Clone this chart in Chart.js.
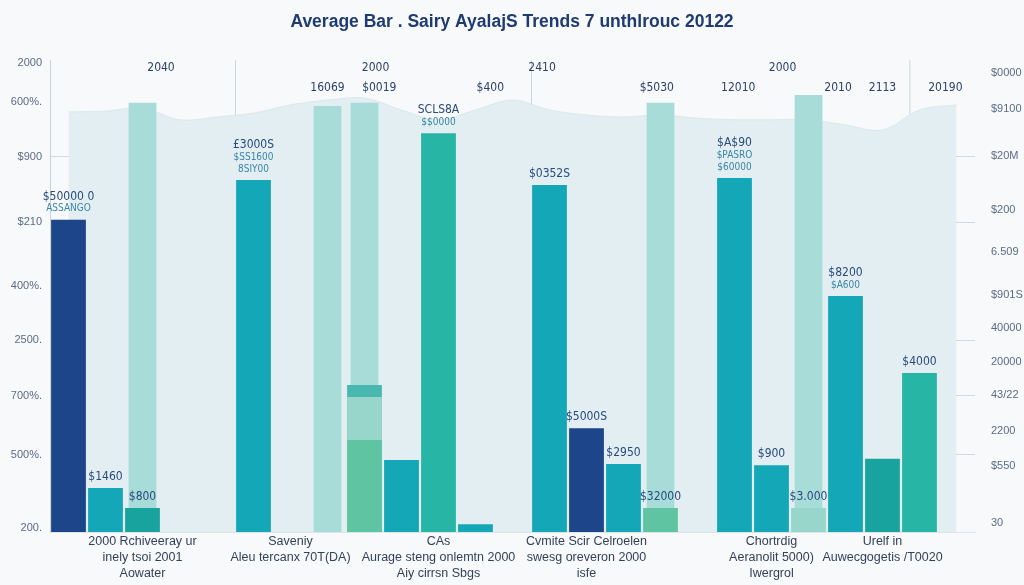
<!DOCTYPE html>
<html>
<head>
<meta charset="utf-8">
<script src="https://cdn.jsdelivr.net/npm/chart.js@4.4.1/dist/chart.umd.min.js"></script>
<style>
  html, body { margin: 0; padding: 0; background: #f7f9fa; }
</style>
</head>
<body>
<canvas id="salaryChart" width="1024" height="585"></canvas>
<script>
// 25 narrow slots, group captions sit under a few of them
const categoryLabels = [
    '', '', ['2000 Rchiveeray ur', 'inely tsoi 2001', 'Aowater'], '', '',
    '', ['Saveniy', 'Aleu tercanx 70T(DA)'], '', '', '',
    ['CAs', 'Aurage steng onlemtn 2000', 'Aiy cirrsn Sbgs'], '', '', '', ['Cvmite Scir Celroelen', 'swesg oreveron 2000', 'isfe'],
    '', '', '', '', ['Chortrdig', 'Aeranolit 5000)', 'Iwergrol'],
    '', '', ['Urelf in', 'Auwecgogetis /T0020'], '', ''
];

//                0     1     2     3     4     5     6     7     8     9     10    11    12    13    14    15    16    17    18    19    20    21    22    23    24
const darkBlue = [3970, null, null, null, null, null, null, null, null, null, null, null, null, null, 1320, null, null, null, null, null, null, null, null, null, null];
const teal =     [null, 560,  null, null, null, 4475, null, null, null, 915,  null, 100,  null, 4410, null, 865,  null, null, 4500, 850,  null, 3000, null, null, null];
const teal2 =    [null, null, 305,  null, null, null, null, null, null, null, null, null, null, null, null, null, null, null, null, null, null, null, 930,  null, null];
const green =    [null, null, null, null, null, null, null, null, null, null, 5070, null, null, null, null, null, null, null, null, null, null, null, null, 2020, null];
const lightGreen=[null, null, null, null, null, null, null, null, 1170, null, null, null, null, null, null, null, 305,  null, null, null, null, null, null, null, null];
const mint =     [null, null, null, null, null, null, null, null, 1715, null, null, null, null, null, null, null, null, null, null, null, 305,  null, null, null, null];
const stackTop = [null, null, null, null, null, null, null, null, 1870, null, null, null, null, null, null, null, null, null, null, null, null, null, null, null, null];
const pale =     [null, null, 5455, null, null, null, null, 5415, 5455, null, null, null, null, null, null, null, 5455, null, null, null, 5555, null, null, null, null];
const trendArea =[5340, 5350, 5390, 5240, 5275, 5325, 5430, 5490, 5515, 5365, 5240, 5365, 5490, 5365, 5300, 5275, 5300, 5260, 5240, 5240, 5240, 5175, 5110, 5365, 5430];

const darkBlueNotes = [['$50000 0', 'ASSANGO'], null, null, null, null, null, null, null, null, null, null, null, null, null, ['$5000S'], null, null, null, null, null, null, null, null, null, null];
const tealNotes = [null, ['$1460'], null, null, null, ['£3000S', '$SS1600', '8SIY00'], null, null, null, null, null, null, null, ['$0352S'], null, ['$2950'], null, null, ['$A$90', '$PASRO', '$60000'], ['$900'], null, ['$8200', '$A600'], null, null, null];
const teal2Notes = [null, null, ['$800'], null, null, null, null, null, null, null, null, null, null, null, null, null, null, null, null, null, null, null, null, null, null];
const greenNotes = [null, null, null, null, null, null, null, null, null, null, ['SCLS8A', '$$0000'], null, null, null, null, null, null, null, null, null, null, null, null, ['$4000'], null];
const lightGreenNotes = [null, null, null, null, null, null, null, null, null, null, null, null, null, null, null, null, ['$32000'], null, null, null, null, null, null, null, null];
const mintNotes = [null, null, null, null, null, null, null, null, null, null, null, null, null, null, null, null, null, null, null, null, ['$3.000'], null, null, null, null];

const topNoteSlots = [2.5, 8.3, 12.8, 19.3, 7.0, 8.4, 11.4, 15.9, 18.1, 20.8, 22.0, 23.7];
const topNoteText = ['2040', '2000', '2410', '2000', '16069', '$0019', '$400', '$5030', '12010', '2010', '2113', '20190'];
const topNoteRow = [0, 0, 0, 0, 1, 1, 1, 1, 1, 1, 1, 1];

const leftTickVals = [50, 980, 1730, 2440, 3130, 3940, 4770, 5470, 5960];
const leftTickText = ['200.', '500%.', '700%.', '2500.', '400%.', '$210', '$900', '600%.', '2000'];
const rightTickVals = [115, 840, 1285, 1740, 2160, 2595, 3010, 3560, 4095, 4780, 5375, 5835];
const rightTickText = ['30', '$550', '2200', '43/22', '20000', '40000', '$901S', '6.509', '$200', '$20M', '$9100', '$0000'];

const dividerSlot = 22.74;
const dividerValue = 2440;

const pageBg = {
    id: 'pageBg',
    beforeDraw(chart) {
        const c = chart.ctx;
        c.save();
        c.fillStyle = '#f7f9fa';
        c.fillRect(0, 0, chart.width, chart.height);
        c.restore();
    }
};

const notes = {
    id: 'notes',
    beforeDatasetsDraw(chart) {
        const c = chart.ctx;
        const x = chart.scales.x.getPixelForValue(dividerSlot);
        c.save();
        c.strokeStyle = '#c9d8df';
        c.lineWidth = 1;
        c.beginPath();
        c.moveTo(x, chart.chartArea.top);
        c.lineTo(x, chart.scales.y.getPixelForValue(dividerValue));
        c.stroke();
        c.restore();
    },
    afterDatasetsDraw(chart) {
        const c = chart.ctx;
        c.save();
        c.textAlign = 'center';
        c.textBaseline = 'middle';
        chart.data.datasets.forEach((ds, di) => {
            if (!ds.notes) return;
            const meta = chart.getDatasetMeta(di);
            ds.notes.forEach((lines, i) => {
                if (!lines) return;
                const bar = meta.data[i];
                let y = bar.y - 11;
                for (let k = lines.length - 1; k >= 0; k--) {
                    c.font = k === 0 ? '12px "DejaVu Sans Condensed"' : '10px "DejaVu Sans Condensed"';
                    c.fillStyle = k === 0 ? '#284a7e' : '#3a86a6';
                    c.fillText(lines[k], bar.x, y);
                    y -= 12;
                }
            });
        });
        c.font = '12px "DejaVu Sans Condensed"';
        c.fillStyle = '#2b3f6b';
        topNoteText.forEach((t, i) => {
            const x = chart.scales.x.getPixelForValue(topNoteSlots[i]);
            const y = chart.chartArea.top + (topNoteRow[i] === 0 ? 8 : 28);
            c.fillText(t, x, y);
        });
        c.restore();
    }
};

function barSet(label, data, color, order, extra) {
    return Object.assign({
        type: 'bar',
        label,
        data,
        backgroundColor: color,
        grouped: false,
        categoryPercentage: 1,
        barPercentage: 0.94,
        order
    }, extra || {});
}

new Chart(document.getElementById('salaryChart'), {
    data: {
        labels: categoryLabels,
        datasets: [
            barSet('Dark', darkBlue, '#1d4589', 5, { notes: darkBlueNotes }),
            barSet('Teal', teal, '#14a7b8', 5, { notes: tealNotes }),
            barSet('Teal 2', teal2, '#18a39e', 5, { notes: teal2Notes }),
            barSet('Green', green, '#27b5a5', 5, { notes: greenNotes }),
            barSet('Light green', lightGreen, '#5fc4a2', 10, { notes: lightGreenNotes }),
            barSet('Mint', mint, '#98d6cb', 20, { notes: mintNotes }),
            barSet('Top band', stackTop, '#48b8b0', 30),
            barSet('Pale', pale, '#a8dcd9', 40, { barPercentage: 0.75 }),
            {
                type: 'line',
                label: 'Trend',
                data: trendArea,
                fill: 'origin',
                backgroundColor: '#e2eef1',
                borderColor: '#dbe9ed',
                borderWidth: 1,
                pointRadius: 0,
                tension: 0.35,
                order: 50
            }
        ]
    },
    options: {
        responsive: false,
        animation: false,
        layout: { padding: 0 },
        plugins: {
            legend: { display: false },
            tooltip: { enabled: false },
            title: {
                display: true,
                text: 'Average Bar . Sairy AyalajS Trends 7 unthlrouc 20122',
                color: '#1f3b73',
                font: { family: '"Liberation Sans"', size: 17.5, weight: 'bold', lineHeight: 1.2 },
                padding: { top: 12, bottom: 27 }
            }
        },
        scales: {
            x: {
                offset: true,
                grid: {
                    offset: true,
                    drawTicks: false,
                    color: ctx => (ctx.index === 5 || ctx.index === 13) ? '#c9d8df' : 'transparent'
                },
                border: { display: true, color: '#dbe5ea' },
                ticks: {
                    autoSkip: false,
                    maxRotation: 0,
                    minRotation: 0,
                    padding: 2,
                    color: '#33425a',
                    font: { family: '"Liberation Sans"', size: 12.5, lineHeight: 1.25 }
                },
                afterFit: s => { s.height = 53; }
            },
            y: {
                position: 'left',
                min: 0,
                max: 6000,
                afterBuildTicks: s => { s.ticks = leftTickVals.map(v => ({ value: v })); },
                ticks: {
                    callback: (v, i) => leftTickText[i],
                    padding: 8,
                    color: '#5b6b85',
                    font: { family: '"Liberation Sans"', size: 11 }
                },
                grid: {
                    drawTicks: false,
                    color: ctx => [1, 2, 3, 5, 6].includes(ctx.index) ? 'rgba(160,182,195,0.45)' : 'transparent'
                },
                border: { display: true, color: '#c5d3db' },
                afterFit: s => { s.width = 50; }
            },
            y2: {
                position: 'right',
                min: 0,
                max: 6000,
                afterBuildTicks: s => { s.ticks = rightTickVals.map(v => ({ value: v })); },
                ticks: {
                    callback: (v, i) => rightTickText[i],
                    padding: 16,
                    color: '#5b6b85',
                    font: { family: '"Liberation Sans"', size: 11 }
                },
                grid: { display: false, drawTicks: false },
                border: { display: false },
                afterFit: s => { s.width = 49; }
            }
        }
    },
    plugins: [pageBg, notes]
});
</script>
</body>
</html>
